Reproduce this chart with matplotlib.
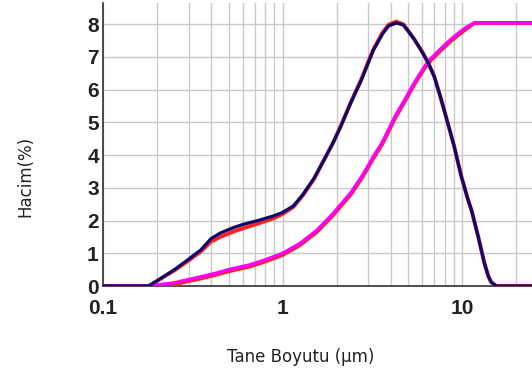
import numpy as np
import matplotlib.pyplot as plt
from matplotlib.ticker import FixedLocator, NullFormatter

# boyut (µm) ve hacim (%) değerleri
size_freq = [0.1, 0.18, 0.25, 0.3, 0.35, 0.4, 0.45, 0.53, 0.6, 0.75, 0.9, 1.0,
             1.15, 1.3, 1.5, 1.7, 1.9, 2.1, 2.4, 2.75, 3.2, 3.6, 3.9, 4.3, 4.7,
             5.0, 5.4, 6.0, 6.5, 7.0, 7.6, 8.3, 9.0, 9.9, 10.7, 11.3, 12.3,
             13.3, 14.0, 14.5, 15.5, 30]
freq_blue = [0, 0, 0.5, 0.82, 1.1, 1.45, 1.62, 1.78, 1.88, 2.02, 2.15, 2.25,
             2.45, 2.8, 3.3, 3.85, 4.35, 4.85, 5.6, 6.3, 7.2, 7.7, 7.95, 8.04,
             7.98, 7.8, 7.55, 7.15, 6.8, 6.4, 5.75, 5.0, 4.3, 3.35, 2.7, 2.3,
             1.5, 0.7, 0.3, 0.12, 0, 0]
freq_red = [0, 0, 0.48, 0.78, 1.05, 1.36, 1.5, 1.66, 1.76, 1.93, 2.08, 2.2,
            2.42, 2.78, 3.28, 3.85, 4.35, 4.87, 5.62, 6.33, 7.23, 7.74, 7.99,
            8.08, 8.0, 7.8, 7.55, 7.15, 6.8, 6.4, 5.75, 5.0, 4.3, 3.35, 2.7,
            2.3, 1.5, 0.7, 0.3, 0.12, 0, 0]

size_cum = [0.1, 0.17, 0.2, 0.25, 0.3, 0.35, 0.43, 0.5, 0.66, 0.8, 1.0, 1.25,
            1.55, 1.9, 2.4, 2.8, 3.2, 3.6, 4.2, 4.8, 5.4, 6.0, 6.5, 7.6, 8.5,
            9.5, 10.5, 11.7, 30]
cum_magenta = [0, 0, 0.03, 0.1, 0.2, 0.28, 0.4, 0.5, 0.65, 0.8, 1.0, 1.3, 1.7,
               2.2, 2.85, 3.4, 3.95, 4.4, 5.15, 5.7, 6.2, 6.6, 6.88, 7.25, 7.5,
               7.72, 7.9, 8.04, 8.04]
cum_red = [v - 0.05 if 0 < v < 8 else v for v in cum_magenta]

xticks = [0.1, 1, 10]
xticklabels = ["0.1", "1", "10"]
yticks = list(range(9))

fig = plt.figure(figsize=(5.32, 3.72), dpi=100)
ax = fig.add_axes([103 / 532, 1 - 286 / 372, 1 - 103 / 532, 283 / 372])

ax.plot(size_cum, cum_red, color="#ff2020", lw=2.8, zorder=3)
ax.plot(size_cum, cum_magenta, color="#ff00ff", lw=2.4, zorder=4)
ax.plot(size_freq, freq_red, color="#ff2020", lw=2.8, zorder=3)
ax.plot(size_freq, freq_blue, color="#0a0a6e", lw=2.3, zorder=5)

ax.set_xscale("log")
ax.set_xlim(0.1, 24.5)
ax.set_ylim(0, 8.65)

minors = [m * d for d in (0.1, 1, 10) for m in range(2, 10)]
ax.xaxis.set_minor_locator(FixedLocator(minors))
ax.xaxis.set_minor_formatter(NullFormatter())
ax.set_xticks(xticks, xticklabels)
ax.set_yticks(yticks)

ax.grid(True, which="both", axis="x", color="#c8c8c8", lw=1)
ax.grid(True, which="major", axis="y", color="#c8c8c8", lw=1)
ax.set_axisbelow(True)

ax.tick_params(which="both", length=0)
ax.tick_params(axis="y", pad=3)
ax.tick_params(axis="x", pad=9)
tick_font = dict(family="Liberation Sans", weight="bold", size=15,
                 color="#222222")
for lab in ax.get_xticklabels() + ax.get_yticklabels():
    lab.set(**tick_font)

for s in ("top", "right"):
    ax.spines[s].set_visible(False)
for s in ("left", "bottom"):
    ax.spines[s].set_color("#303030")
    ax.spines[s].set_linewidth(1.2)

fig.text(25 / 532, 1 - 176 / 372, "Hacim(%)", rotation=90, ha="center",
         va="center", fontsize=12, family="DejaVu Sans", color="#222222")
fig.text(301 / 532, 1 - 357 / 372, "Tane Boyutu (µm)", ha="center",
         va="center", fontsize=12, family="DejaVu Sans", color="#222222")

fig.savefig("out.png", dpi=100)
